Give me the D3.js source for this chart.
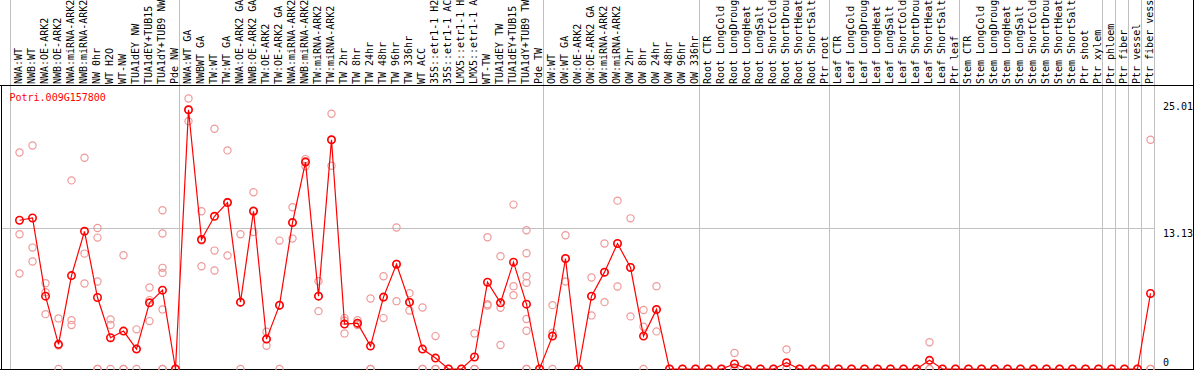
<!DOCTYPE html>
<html><head><meta charset="utf-8">
<script src="https://cdn.jsdelivr.net/npm/d3@7"></script>
<style>html,body{margin:0;padding:0;background:#fff;overflow:hidden}</style>
</head><body><svg id="c" width="1194" height="370"></svg>
<script>
const geneId = "Potri.009G157800";
const categories = [
  "NWA:WT","NWB:WT","NWA:OE-ARK2","NWB:OE-ARK2","NWA:miRNA-ARK2","NWB:miRNA-ARK2","NW 0hr","WT H2O","WT-NW","TUA1dEY NW","TUA1dEY+TUB15","TUA1dY+TUB9 NW","Pde NW",
  "NWA:WT GA","NWBWT GA","TW:WT","TW:WT GA","NWA:OE-ARK2 GA","NWB:OE-ARK2 GA","TW:OE-ARK2","TW:OE-ARK2 GA","NWA:miRNA-ARK2","NWB:miRNA-ARK2","TW:miRNA-ARK2","TW:miRNA-ARK2","TW 2hr","TW 8hr","TW 24hr","TW 48hr","TW 96hr","TW 336hr","WT ACC","35S::etr1-1 H2","35S::etr1-1 AC","LMX5::etr1-1 H","LMX5::etr1-1 A","WT-TW","TUA1dEY TW","TUA1dEY+TUB15","TUA1dY+TUB9 TW","Pde TW",
  "OW:WT","OW:WT GA","OW:OE-ARK2","OW:OE-ARK2 GA","OW:miRNA-ARK2","OW:miRNA-ARK2","OW 2hr","OW 8hr","OW 24hr","OW 48hr","OW 96hr","OW 336hr",
  "Root CTR","Root LongCold","Root LongDroug","Root LongHeat","Root LongSalt","Root ShortCold","Root ShortDrou","Root ShortHeat","Root ShortSalt","Ptr root",
  "Leaf CTR","Leaf LongCold","Leaf LongDroug","Leaf LongHeat","Leaf LongSalt","Leaf ShortCold","Leaf ShortDrou","Leaf ShortHeat","Leaf ShortSalt","Ptr leaf",
  "Stem CTR","Stem LongCold","Stem LongDroug","Stem LongHeat","Stem LongSalt","Stem ShortCold","Stem ShortDrou","Stem ShortHeat","Stem ShortSalt","Ptr shoot","Ptr xylem",
  "Ptr phloem","Ptr fiber","Ptr vessel","Ptr fiber vess"
];
const groupSizes = [13,28,12,10,10,11,1,1,1,1];
const means = [
  13.88,14.09,6.80,2.30,8.72,12.85,6.67,2.92,3.54,1.86,6.18,7.36,0,
  24.19,12.08,14.25,15.53,6.24,14.72,2.79,5.96,13.66,19.31,6.80,21.39,4.19,4.28,2.14,6.71,9.78,6.24,1.86,1.02,0,0,1.12,8.10,6.18,9.97,6.05,0,
  3.07,10.31,0,6.80,9.04,11.71,9.47,3.07,5.56,0,0,0,
  0,0,0.47,0,0,0,0.59,0,0,0,
  0,0,0,0,0,0,0,0.81,0,0,
  0,0,0,0,0,0,0,0,0,0,0,
  0,0,0,7.05
];
const replicates = [
  [20.2,12.57,8.91],[20.86,11.33,10.03],[8.01,7.17,5.12],[4.72,2.2,0],[17.6,4.56,4.10],[19.72,10.77,7.98],[13.16,12.26,8.16,0,0],[4.63,4.10,0],[10.62,0,0],[3.7,1.9,0],[7.61,6.43,4.47],[14.81,12.64,9.44,8.97,5.56,0,0],[0,0,0],
  [25.24,24.2,23.13],[14.72,12.0,9.59],[22.42,11.05,9.19],[20.4,15.6,10.59],[12.57,6.2,0],[16.49,14.8,12.79],[3.48,2.8,2.17],[11.98,5.9,0],[15.09,13.7,12.17],[19.59,19.4,18.91],[8.20,6.8,5.40],[23.82,21.4,18.97],[4.75,4.5,3.32],[4.56,4.2,4.10],[6.58,0,0],[8.66,6.7,4.75],[13.2,9.8,6.33],[7.08,6.2,5.46],[5.74,0,0],[3.07,0,0],[0,0,0],[0,0,0],[3.32,0,0],[12.3,6.05,5.93],[10.53,5.71,2.24],[15.34,7.73,6.89],[12.95,10.8,8.66,8.04,4.66,3.57,0,0],[0,0,0],
  [5.96,3.38,0],[12.48,10.3,8.17],[0,0,0],[8.54,6.8,5.0],[11.71,9.0,6.24],[15.71,11.7,7.70],[14.06,9.5,4.91],[5.50,3.94,0],[7.73,5.5,3.51],[0,0,0],[0,0,0],[0,0,0],
  [0,0,0],[0,0,0],[1.49,0,0],[0,0,0],[0,0,0],[0,0,0],[1.83,0,0],[0,0,0],[0,0,0],[0,0,0],
  [0,0,0],[0,0,0],[0,0,0],[0,0,0],[0,0,0],[0,0,0],[0,0,0],[2.49,0,0],[0,0,0],[0,0,0],
  [0,0,0],[0,0,0],[0,0,0],[0,0,0],[0,0,0],[0,0,0],[0,0,0],[0,0,0],[0,0,0],[0,0,0],[0,0,0],
  [0,0,0],[0,0,0],[0,0,0],[21.39,0,0]
];
const yTicks = [25.01, 13.13, 0];

const W = 1194, H = 370;
const n = categories.length;
const svg = d3.select("#c");
const x = d3.scaleLinear().domain([0, n - 1]).range([19.5, 19.5 + 13 * (n - 1)]);
const y = d3.scaleLinear().domain([0, 13.13]).range([369, 228.3]);
const FONT = "'DejaVu Sans Mono', monospace";

// group separators
const bounds = [0];
groupSizes.forEach(s => bounds.push(bounds[bounds.length - 1] + s));
svg.append("g").selectAll("line").data(bounds).join("line")
  .attr("x1", k => Math.round(x(k) - 8.5) - 0.5).attr("x2", k => Math.round(x(k) - 8.5) - 0.5)
  .attr("y1", 0).attr("y2", 369)
  .attr("stroke", "#c0c0c0").attr("stroke-width", 1);

// horizontal grid at middle tick
svg.append("line")
  .attr("x1", 1).attr("x2", Math.round(x(n) - 8.5) - 0.5)
  .attr("y1", Math.round(y(13.13)) + 0.5).attr("y2", Math.round(y(13.13)) + 0.5)
  .attr("stroke", "#c0c0c0");

// borders
svg.append("line").attr("x1", 0).attr("x2", W).attr("y1", 85.5).attr("y2", 85.5).attr("stroke", "#000");
svg.append("line").attr("x1", 0).attr("x2", W).attr("y1", 369.5).attr("y2", 369.5).attr("stroke", "#000");
svg.append("line").attr("x1", 1.5).attr("x2", 1.5).attr("y1", 85).attr("y2", 370).attr("stroke", "#000");
svg.append("line").attr("x1", 1193.5).attr("x2", 1193.5).attr("y1", 0).attr("y2", 370).attr("stroke", "#000");

// replicates
const reps = [];
replicates.forEach((arr, i) => arr.forEach(v => reps.push({i, v})));
svg.append("g").selectAll("circle").data(reps).join("circle")
  .attr("cx", d => x(d.i)).attr("cy", d => y(d.v)).attr("r", 3.6)
  .attr("fill", "none").attr("stroke", "#ee9999").attr("stroke-width", 1.2);

// mean line
const line = d3.line().x((d, i) => x(i)).y(d => y(d));
svg.append("path").datum(means).attr("d", line)
  .attr("fill", "none").attr("stroke", "#ff0000").attr("stroke-width", 1.2);

// mean circles
svg.append("g").selectAll("circle").data(means).join("circle")
  .attr("cx", (d, i) => x(i)).attr("cy", d => y(d)).attr("r", 3.7)
  .attr("fill", "none").attr("stroke", "#ff0000").attr("stroke-width", 1.6);

// column labels
svg.append("g").selectAll("text").data(categories).join("text")
  .attr("transform", (d, i) => `translate(${x(i) + 2.5},84) rotate(-90)`)
  .attr("font-family", FONT).attr("font-size", 10).attr("fill", "#000")
  .text(d => d);

// y labels
svg.append("g").selectAll("text").data(yTicks).join("text")
  .attr("x", 1163).attr("y", v => Math.min(y(v) + 9, 366))
  .attr("font-family", FONT).attr("font-size", 10).attr("fill", "#000")
  .text(v => String(v));

// gene id
svg.append("text").attr("x", 9.5).attr("y", 100.5)
  .attr("font-family", FONT).attr("font-size", 10).attr("fill", "#ff0000")
  .text(geneId);
</script>
</body></html>
